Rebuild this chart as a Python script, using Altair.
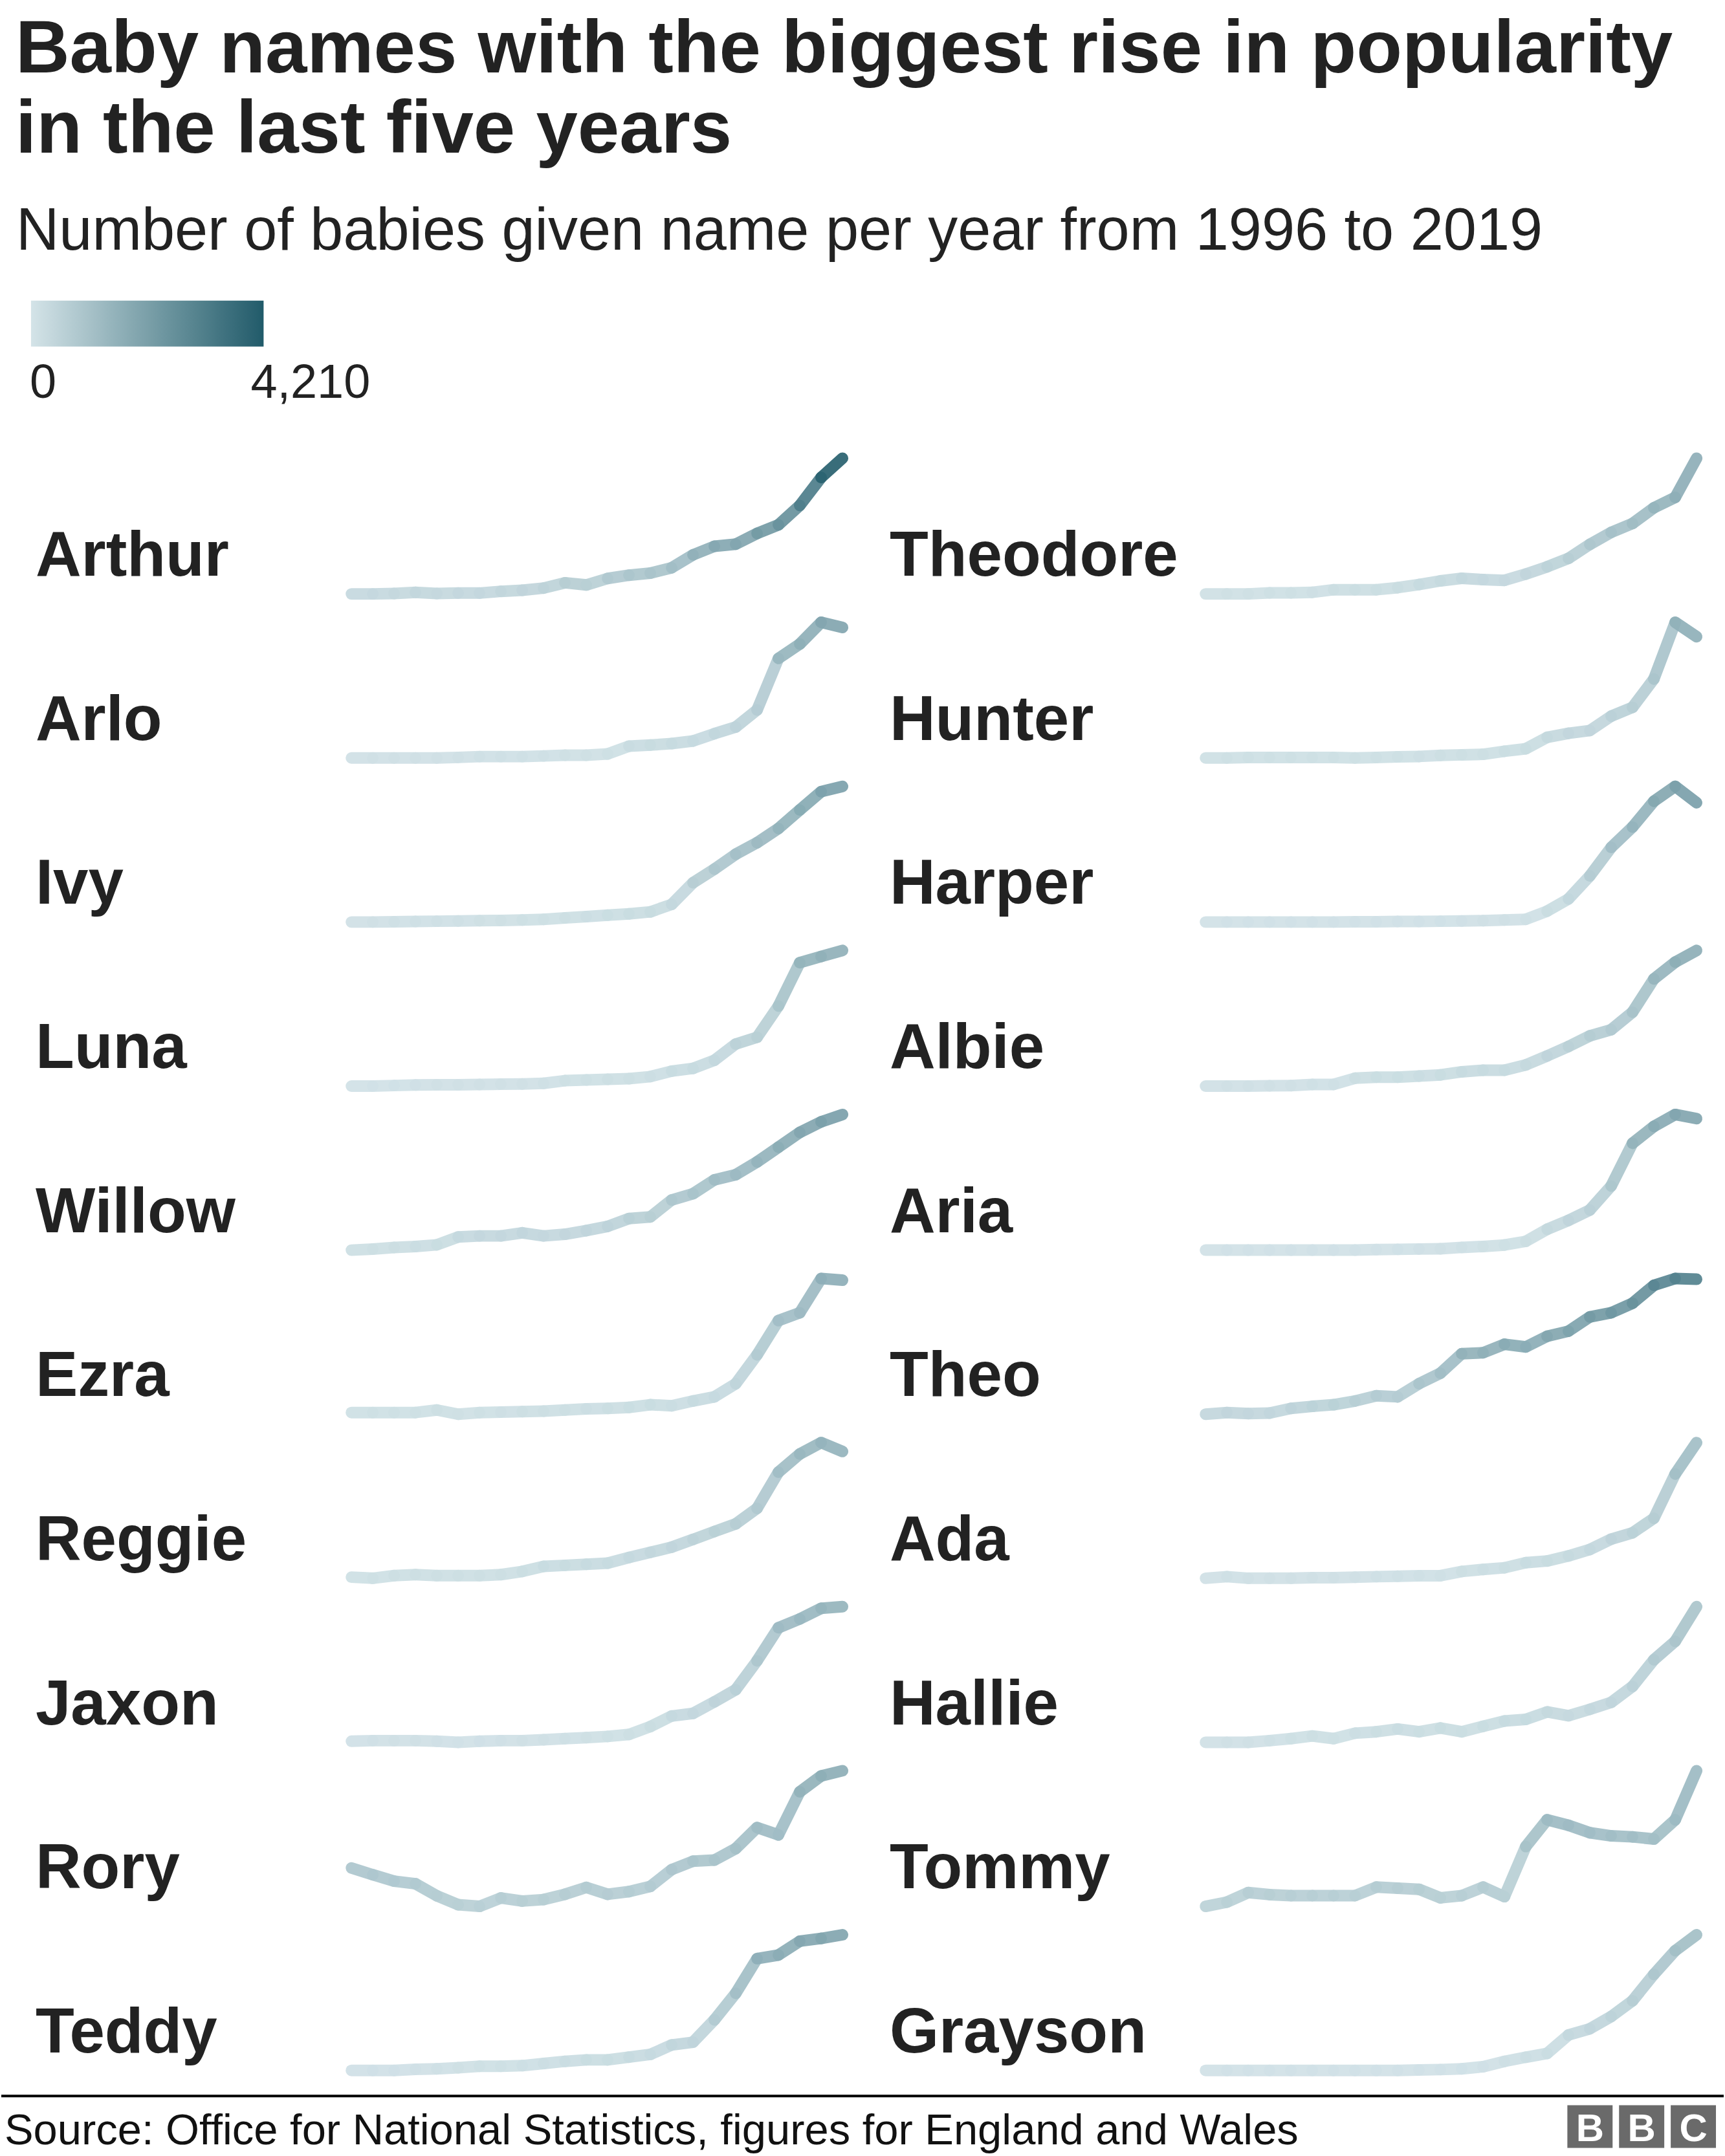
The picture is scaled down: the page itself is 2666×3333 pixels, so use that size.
import altair as alt
import pandas as pd

# ---------------- data ----------------
years = list(range(1996, 2020))

names_left = ["Arthur", "Arlo", "Ivy", "Luna", "Willow", "Ezra", "Reggie", "Jaxon", "Rory", "Teddy"]
names_right = ["Theodore", "Hunter", "Harper", "Albie", "Aria", "Theo", "Ada", "Hallie", "Tommy", "Grayson"]

arthur = [250, 250, 262, 294, 262, 274, 274, 325, 357, 420, 575, 511, 701, 796, 856, 1014, 1390, 1640, 1703, 2016, 2266, 2832, 3648, 4210]
arlo = [20, 20, 20, 20, 20, 27, 37, 37, 37, 45, 54, 54, 70, 166, 180, 198, 230, 321, 403, 615, 1253, 1431, 1700, 1636]
ivy = [30, 30, 34, 37, 41, 45, 49, 52, 58, 67, 86, 105, 124, 142, 170, 273, 572, 759, 965, 1124, 1320, 1575, 1827, 1900]
luna = [5, 5, 11, 17, 19, 19, 22, 25, 28, 34, 63, 70, 77, 84, 106, 164, 193, 280, 453, 525, 858, 1320, 1385, 1450]
willow = [80, 95, 117, 130, 153, 261, 276, 276, 319, 276, 299, 349, 407, 516, 538, 772, 858, 1049, 1120, 1296, 1499, 1703, 1849, 1950]
ezra = [67, 67, 67, 67, 93, 50, 67, 72, 77, 82, 93, 105, 110, 120, 148, 137, 186, 229, 365, 663, 1016, 1097, 1450, 1433]
reggie = [70, 60, 84, 93, 84, 84, 84, 93, 122, 169, 178, 188, 198, 250, 297, 344, 415, 487, 557, 699, 1030, 1196, 1300, 1219]
jaxon = [15, 21, 21, 21, 15, 5, 15, 21, 21, 30, 40, 50, 61, 80, 155, 256, 281, 391, 507, 783, 1099, 1183, 1284, 1300]
rory = [783, 733, 686, 667, 578, 512, 500, 562, 539, 550, 589, 640, 589, 609, 647, 771, 833, 841, 926, 1081, 1027, 1345, 1461, 1500]
teddy = [15, 15, 15, 29, 36, 50, 69, 69, 76, 103, 131, 150, 150, 185, 220, 341, 376, 662, 1002, 1445, 1491, 1668, 1703, 1750]

theodore = [50, 50, 50, 66, 66, 73, 110, 110, 110, 140, 185, 237, 274, 255, 245, 335, 440, 561, 762, 935, 1062, 1288, 1438, 2000]
hunter = [60, 60, 65, 65, 65, 65, 65, 60, 65, 71, 75, 85, 91, 96, 126, 151, 264, 304, 331, 473, 560, 840, 1400, 1258]
harper = [3, 3, 3, 3, 3, 3, 3, 7, 7, 10, 10, 14, 18, 21, 31, 40, 151, 317, 631, 1019, 1296, 1647, 1850, 1628]
albie = [20, 20, 20, 23, 26, 39, 39, 112, 124, 124, 137, 150, 186, 205, 205, 266, 371, 481, 605, 677, 881, 1268, 1464, 1600]
aria = [3, 3, 3, 3, 3, 3, 3, 3, 10, 13, 17, 20, 37, 49, 67, 113, 264, 375, 505, 806, 1340, 1551, 1700, 1649]
theo = [300, 329, 310, 319, 403, 439, 468, 533, 626, 607, 840, 1025, 1370, 1387, 1538, 1490, 1678, 1769, 2021, 2095, 2263, 2580, 2700, 2688]
ada = [20, 35, 20, 20, 20, 25, 25, 30, 35, 39, 44, 44, 84, 103, 119, 167, 183, 231, 291, 389, 449, 586, 1004, 1300]
hallie = [30, 30, 30, 43, 59, 80, 59, 102, 113, 135, 113, 143, 113, 156, 198, 211, 270, 240, 290, 345, 471, 681, 827, 1100]
tommy = [450, 483, 557, 541, 533, 533, 533, 533, 599, 591, 582, 516, 533, 599, 525, 913, 1120, 1078, 1020, 996, 988, 971, 1120, 1500]
grayson = [0, 0, 0, 0, 0, 0, 0, 0, 0, 0, 4, 7, 13, 30, 73, 107, 138, 287, 338, 437, 565, 779, 971, 1100]

series = {
    "Arthur": arthur, "Arlo": arlo, "Ivy": ivy, "Luna": luna, "Willow": willow,
    "Ezra": ezra, "Reggie": reggie, "Jaxon": jaxon, "Rory": rory, "Teddy": teddy,
    "Theodore": theodore, "Hunter": hunter, "Harper": harper, "Albie": albie, "Aria": aria,
    "Theo": theo, "Ada": ada, "Hallie": hallie, "Tommy": tommy, "Grayson": grayson,
}

legend_values = [0, 4210]
title_line1 = "Baby names with the biggest rise in popularity"
title_line2 = "in the last five years"
subtitle = "Number of babies given name per year from 1996 to 2019"
source = "Source: Office for National Statistics, figures for England and Wales"
bbc_letters = ["B", "B", "C"]

# segment table (one row per year-to-year segment)
recs = []
for col, names in enumerate([names_left, names_right]):
    for r, name in enumerate(names):
        vals = series[name]
        for i in range(len(years) - 1):
            recs.append({
                "name": name, "row": r, "col": col,
                "year": years[i], "year2": years[i + 1],
                "value": vals[i], "value2": vals[i + 1],
            })
df = pd.DataFrame(recs)

FONT = "Liberation Sans"
INK = "#222222"

# ---------------- header ----------------
one = alt.Data(values=[{"k": 0}])


def htext(txt, x, y, size, weight="normal"):
    return alt.Chart(one).mark_text(text=txt, align="left", baseline="alphabetic", font=FONT,
                                    fontWeight=weight, fontSize=size, color=INK).encode(
        x=alt.value(x), y=alt.value(y))


t1 = htext(title_line1, 22, 110, 116, "bold")
t2 = htext(title_line2, 22, 234, 116, "bold")
t3 = htext(subtitle, 23, 384, 92)
lg0 = htext(f"{legend_values[0]:,}", 44, 613, 74)
lg1 = htext(f"{legend_values[1]:,}", 386, 613, 74)
header = alt.layer(t1, t2, t3, lg0, lg1).properties(width=2666, height=698)

# ---------------- sparklines ----------------
color_scale = alt.Scale(domain=legend_values, range=["#d0e1e6", "#0e4d5d"], interpolate="rgb")

base = alt.Chart(df)
rules = base.mark_rule(strokeWidth=18, strokeCap="round", opacity=0.92).encode(
    x=alt.X("year:Q", scale=alt.Scale(domain=[1996, 2019], range=[542, 1302]), axis=None),
    x2="year2:Q",
    y=alt.Y("value:Q", scale=alt.Scale(zero=False, nice=False), axis=None),
    y2="value2:Q",
    color=alt.Color(
        "value:Q", scale=color_scale, title=None,
        legend=alt.Legend(
            orient="none", legendX=46, legendY=463, direction="horizontal",
            gradientLength=360, gradientThickness=71, gradientStrokeWidth=0,
            values=legend_values, labelExpr="''", labelFontSize=1,
            padding=0,
        ),
    ),
)
labels = base.transform_filter(alt.datum.year == 1996).mark_text(
    align="left", baseline="alphabetic", font=FONT, fontWeight="bold", fontSize=98, color=INK
).encode(x=alt.value(53), y=alt.value(182), text="name:N")

panel = alt.layer(rules, labels).properties(width=1322, height=210)
grid = panel.facet(
    row=alt.Row("row:O", title=None, header=alt.Header(labels=False)),
    column=alt.Column("col:O", title=None, header=alt.Header(labels=False)),
    spacing={"row": 44, "column": 0},
    bounds="flush",
).resolve_scale(y="independent")

# ---------------- footer ----------------
line = alt.Chart(one).mark_rule(color="#000000", strokeWidth=4).encode(
    x=alt.value(0), x2=alt.value(2666), y=alt.value(30.5))
src = alt.Chart(one).mark_text(text=source, align="left", baseline="alphabetic", font=FONT,
                               fontSize=67, color="#111111").encode(x=alt.value(5), y=alt.value(105))
logo_layers = []
for i, letter in enumerate(bbc_letters):
    x0 = 2424 + i * 80
    logo_layers.append(alt.Chart(one).mark_rect(color="#6a6a6a").encode(
        x=alt.value(x0), x2=alt.value(x0 + 70), y=alt.value(45), y2=alt.value(111)))
    logo_layers.append(alt.Chart(one).mark_text(text=letter, align="center", baseline="alphabetic",
                                                font=FONT, fontWeight="bold", fontSize=60,
                                                color="#ffffff").encode(
        x=alt.value(x0 + 35), y=alt.value(100)))
footer = alt.layer(line, src, *logo_layers).properties(width=2666, height=121)

chart = alt.vconcat(header, grid, footer, spacing=0).properties(
    padding=0, background="#ffffff"
).configure_view(strokeWidth=0)

chart.save("out.html", embed_options={"renderer": "svg", "actions": False})
